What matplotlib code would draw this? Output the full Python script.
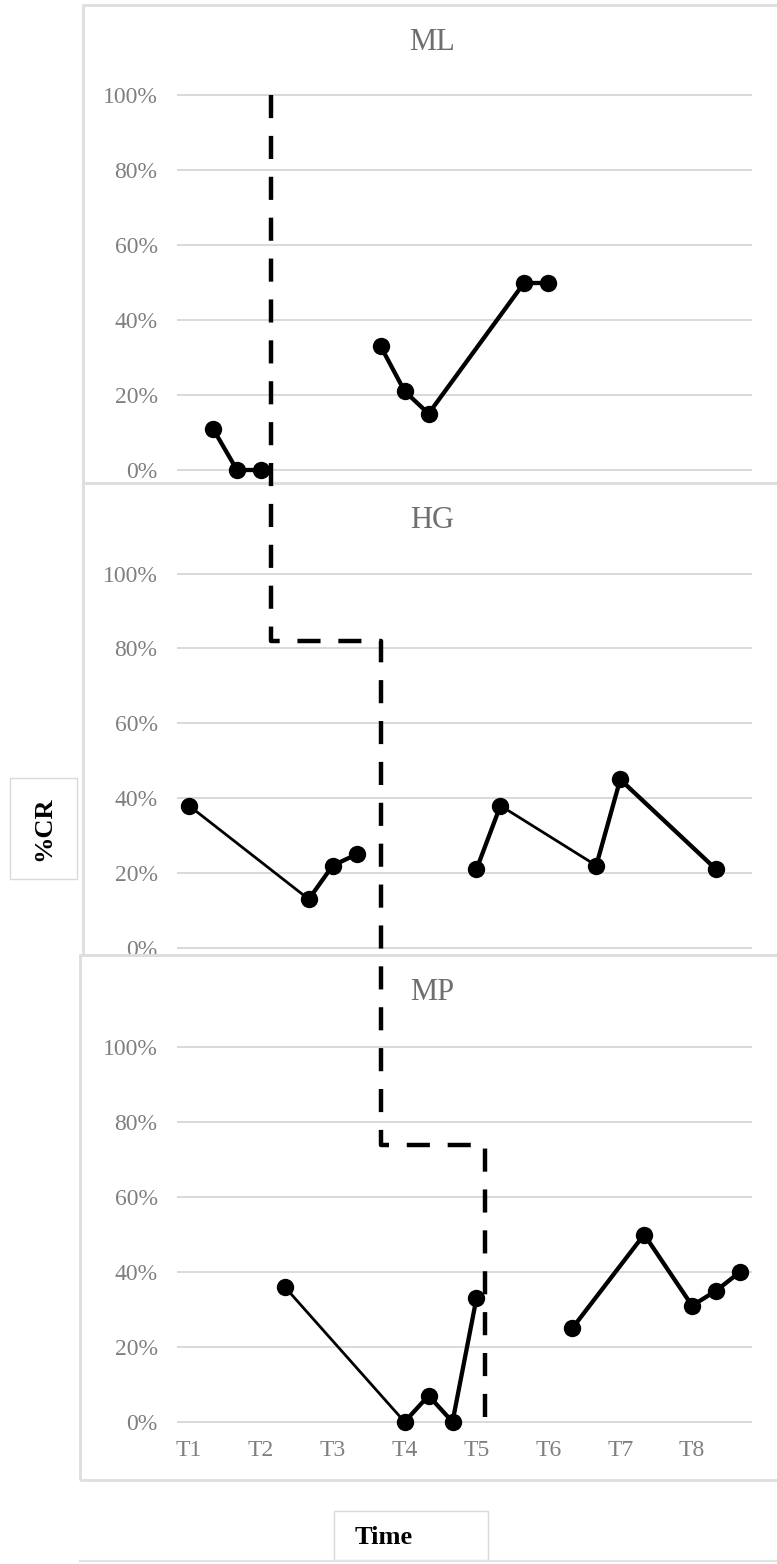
import matplotlib.pyplot as plt
from matplotlib.lines import Line2D
from matplotlib.patches import Rectangle

# sessions (1..24) and %CR per participant, split by phase
ml_base_x = [2, 3, 4]
ml_base_y = [11, 0, 0]
ml_int_x = [9, 10, 11, 15, 16]
ml_int_y = [33, 21, 15, 50, 50]

hg_base_x = [1, 6, 7, 8]
hg_base_y = [38, 13, 22, 25]
hg_int_x = [13, 14, 18, 19, 23]
hg_int_y = [21, 38, 22, 45, 21]

mp_base_x = [5, 10, 11, 12, 13]
mp_base_y = [36, 0, 7, 0, 33]
mp_int_x = [17, 20, 22, 23, 24]
mp_int_y = [25, 50, 31, 35, 40]

# links drawn with a thinner stroke in the original
thin_links = [("HG", 1, 6), ("HG", 14, 18), ("MP", 5, 10)]

tick_pos = [1, 4, 7, 10, 13, 16, 19, 22]
tick_labels = ["T1", "T2", "T3", "T4", "T5", "T6", "T7", "T8"]
y_ticks = [0, 20, 40, 60, 80, 100]

# phase change staircase: x of each dashed vertical, level of each step
phase_x = [4.42, 9.0, 13.35]
phase_step = [82, 74]

W, H = 777, 1564
plt.rcParams['font.family'] = ['Liberation Serif', 'DejaVu Serif']
fig = plt.figure(figsize=(W / 100, H / 100), dpi=100)

grey_txt = '#7f7f7f'
grid_c = '#d9d9d9'


def fx(px):
    return px / W


def fy(py):
    return 1 - py / H


# panel frames
for (x0, y0, y1) in [(83, 5, 483), (83, 483, 955), (80, 955, 1480)]:
    fig.patches.append(Rectangle((fx(x0), fy(y1)), fx(800 - x0), fy(y0) - fy(y1),
                                 transform=fig.transFigure, fill=False,
                                 edgecolor='#dedede', lw=2, zorder=0))

panels = [
    ("ML", 94, 471, 5, ml_base_x, ml_base_y, ml_int_x, ml_int_y),
    ("HG", 572.5, 949, 483, hg_base_x, hg_base_y, hg_int_x, hg_int_y),
    ("MP", 1046, 1423, 955, mp_base_x, mp_base_y, mp_int_x, mp_int_y),
]

axes = {}
for name, top, bot, box_top, bx, by, ix, iy in panels:
    ax = fig.add_axes([fx(177), fy(bot), fx(752) - fx(177), fy(top) - fy(bot)])
    ax.set_facecolor('none')
    ax.set_xlim(0.5, 24.5)
    ax.set_ylim(-0.3, 100.3)
    for s in ax.spines.values():
        s.set_visible(False)
    ax.set_yticks(y_ticks)
    ax.set_yticklabels([f"{v}%" for v in y_ticks])
    ax.yaxis.grid(True, color=grid_c, lw=1.4)
    ax.set_axisbelow(True)
    ax.tick_params(axis='y', length=0, pad=14, labelsize=17, labelcolor=grey_txt)
    ax.set_xticks(tick_pos)
    if name == "MP":
        ax.set_xticklabels(tick_labels)
        ax.tick_params(axis='x', length=0, pad=12, labelsize=17, labelcolor=grey_txt)
    else:
        ax.tick_params(axis='x', length=0, labelbottom=False)

    for xs, ys in [(bx, by), (ix, iy)]:
        for i in range(len(xs) - 1):
            lw = 2.0 if (name, xs[i], xs[i + 1]) in thin_links else 3.1
            ax.plot(xs[i:i + 2], ys[i:i + 2], color='black', lw=lw,
                    solid_capstyle='round', clip_on=False, zorder=3)
        ax.plot(xs, ys, 'o', color='black', markersize=11.5, clip_on=False, zorder=4)

    fig.text(fx(432), fy(box_top + 38), name, ha='center', va='center',
             fontsize=22, color='#6f6f6f')
    axes[name] = ax

# phase change lines (one staircase across the three panels)
path = [(axes["ML"], phase_x[0], 100),
        (axes["HG"], phase_x[0], phase_step[0]),
        (axes["HG"], phase_x[1], phase_step[0]),
        (axes["MP"], phase_x[1], phase_step[1]),
        (axes["MP"], phase_x[2], phase_step[1]),
        (axes["MP"], phase_x[2], 0)]
inv = fig.transFigure.inverted()
pts = [inv.transform(a.transData.transform((x, y))) for a, x, y in path]
fig.lines.append(Line2D([p[0] for p in pts], [p[1] for p in pts],
                        transform=fig.transFigure, color='black', lw=3.2,
                        linestyle=(0, (5.2, 4.0)), zorder=10))

# axis title boxes
fig.patches.append(Rectangle((fx(10), fy(879)), fx(77) - fx(10), fy(778) - fy(879),
                             transform=fig.transFigure, fill=False,
                             edgecolor='#d9d9d9', lw=1))
fig.text(fx(44), fy(829), "%CR", rotation=90, ha='center', va='center',
         fontsize=19, fontweight='bold', color='black')

fig.patches.append(Rectangle((fx(334), fy(1560)), fx(488) - fx(334), fy(1511) - fy(1560),
                             transform=fig.transFigure, fill=False,
                             edgecolor='#d9d9d9', lw=1))
fig.text(fx(355), fy(1537), "Time", ha='left', va='center',
         fontsize=19, fontweight='bold', color='black')
fig.lines.append(Line2D([fx(80), 1.0], [fy(1561), fy(1561)], transform=fig.transFigure,
                        color='#e3e3e3', lw=1.5))

fig.savefig("out.png", dpi=100)
